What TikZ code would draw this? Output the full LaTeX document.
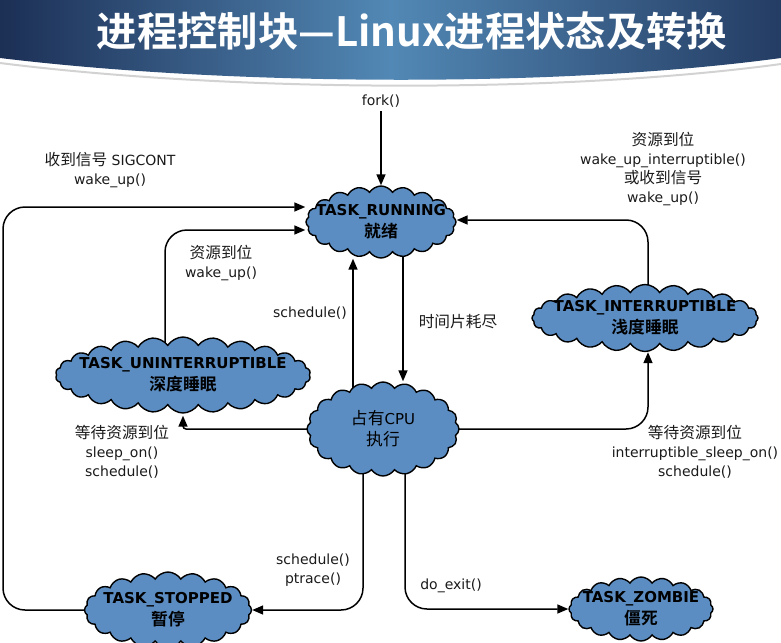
\documentclass[tikz,border=0pt]{standalone}
\usepackage{fontspec}
\setmainfont{DejaVu Sans}
\newfontfamily\cjk[Scale=1.12,BoldFont={Noto Sans CJK SC Bold}]{Noto Sans CJK SC}
\usepackage{tikz}
\usetikzlibrary{shapes.symbols, arrows.meta, calc, positioning}
\usepackage{xcolor}
\definecolor{stateblue}{HTML}{5B8DC2}
\definecolor{bannerdark}{HTML}{1C2F55}
\definecolor{bannerlight}{HTML}{5288B5}
\definecolor{labelgray}{HTML}{1A1A1A}
\pgfdeclarelayer{background}
\pgfsetlayers{background,main}

\tikzset{
  state/.style={cloud, cloud puffs=20, cloud puff arc=115, cloud ignores aspect,
    draw=black, line width=1.4pt, fill=stateblue, align=center,
    inner xsep=-40pt, inner ysep=-8pt,
    font=\fontsize{15}{22}\selectfont\bfseries},
  edge/.style={line width=1.5pt, rounded corners=22pt,
    -{Triangle[length=11pt,width=9pt]}},
  lbl/.style={align=center, text=labelgray, font=\fontsize{14}{19}\selectfont},
  titletext/.style={font=\cjk\bfseries\fontsize{36}{40}\selectfont},
}

\begin{document}
\begin{tikzpicture}[x=1pt,y=-1pt]
    \useasboundingbox (0,0) rectangle (781,642);

    % banner
    \shade[left color=bannerdark, right color=bannerdark!85!bannerlight, middle color=bannerlight]
        (0,0) -- (781,0) -- (781,58) .. controls (560,88) and (230,86) .. (0,58) -- cycle;
    \draw[gray!35, line width=2pt] (0,63) .. controls (230,92) and (560,94) .. (781,64);
    \node[titletext, text=white] (title) at (412,31) {进程控制块—Linux进程状态及转换};

    % states
    \node[state, minimum width=150pt, minimum height=72pt] (running) at (381,222) {TASK\_RUNNING\\{\cjk 就绪}};
    \node[state, minimum width=255pt, minimum height=76pt, cloud puffs=26] (unint) at (183,375) {TASK\_UNINTERRUPTIBLE\\{\cjk 深度睡眠}};
    \node[state, minimum width=226pt, minimum height=67pt, cloud puffs=24] (inter) at (645,318) {TASK\_INTERRUPTIBLE\\{\cjk 浅度睡眠}};
    \node[state, minimum width=152pt, minimum height=94pt, font=\fontsize{15}{21}\selectfont] (cpu) at (383,429) {{\cjk 占有}CPU\\{\cjk 执行}};
    \node[state, minimum width=167pt, minimum height=76pt] (stopped) at (168,610) {TASK\_STOPPED\\{\cjk 暂停}};
    \node[state, minimum width=144pt, minimum height=64pt] (zombie) at (641,609) {TASK\_ZOMBIE\\{\cjk 僵死}};

    % labels
    \node[lbl] (forklbl) at (381,101) {fork()};
    \node[lbl] (sigcont) at (110,170) {{\cjk 收到信号} SIGCONT\\wake\_up()};
    \node[lbl] (wakeunint) at (221,263) {{\cjk 资源到位}\\wake\_up()};
    \node[lbl] (schedup) at (310,313) {schedule()};
    \node[lbl] (timeslice) at (458,322) {\cjk 时间片耗尽};
    \node[lbl] (wakeinter) at (663,169) {{\cjk 资源到位}\\wake\_up\_interruptible()\\{\cjk 或收到信号}\\wake\_up()};
    \node[lbl] (sleepunint) at (122,452) {{\cjk 等待资源到位}\\sleep\_on()\\schedule()};
    \node[lbl] (sleepinter) at (695,452) {{\cjk 等待资源到位}\\interruptible\_sleep\_on()\\schedule()};
    \node[lbl] (stoplbl) at (313,570) {schedule()\\ptrace()};
    \node[lbl] (exitlbl) at (451,586) {do\_exit()};

    \coordinate (leftrail) at (3,400);

    % transitions
    \begin{pgfonlayer}{background}
        \draw[edge] (forklbl) -- (running);
        \draw[edge] (stopped.center) -| (leftrail) |- ([yshift=15pt]running.west);
        \draw[edge] ([xshift=-18pt]unint.center) |- ([yshift=-8pt]running.west);
        \draw[edge] ([xshift=-30pt]cpu.center) -- ([xshift=-28pt]running.south);
        \draw[edge] ([xshift=22pt]running.center) -- ([xshift=20pt]cpu.north);
        \draw[edge] ([xshift=3pt]inter.center) |- ([yshift=2pt]running.east);
        \draw[edge, rounded corners=3pt] (cpu.center) -| ([yshift=-2pt]unint.south);
        \draw[edge] (cpu.center) -| ([xshift=3pt]inter.south);
        \draw[edge] ([xshift=-20pt]cpu.center) |- (stopped.east);
        \draw[edge] ([xshift=22pt]cpu.center) |- (zombie.west);
    \end{pgfonlayer}
\end{tikzpicture}
\end{document}
